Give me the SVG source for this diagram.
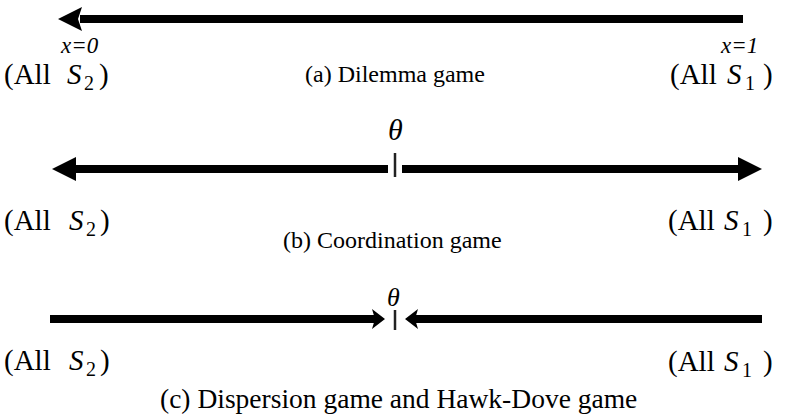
<svg xmlns="http://www.w3.org/2000/svg" width="785" height="416" viewBox="0 0 785 416">
<style>
.ln{stroke:#000;stroke-width:8;fill:none}
.hd{fill:#000;stroke:none}
.tk{stroke:#222;stroke-width:2.5}
.lab{font-family:"Liberation Serif","Times New Roman",serif;font-size:29px;fill:#000}
.it{font-style:italic}
.sub{font-size:20px}
.cap{font-family:"Liberation Serif","Times New Roman",serif;font-size:24px;fill:#000}
.pos{font-family:"Liberation Serif","Times New Roman",serif;font-style:italic;font-size:23px;fill:#000}
.th{font-family:"Liberation Serif","Times New Roman",serif;font-style:italic;font-size:30px;fill:#000}
</style>
<rect width="785" height="416" fill="#fff"/>
<g id="connectors">
  <line class="ln" x1="80" y1="19" x2="743" y2="19"/>
  <polygon class="hd" points="58,19 82,7 78,19 82,31"/>
  <line class="ln" x1="74" y1="169" x2="388" y2="169"/>
  <polygon class="hd" points="52,169 76,157 76,181"/>
  <line class="ln" x1="402" y1="169" x2="740" y2="169"/>
  <polygon class="hd" points="762,169 738,157 738,181"/>
  <line class="tk" x1="395" y1="153" x2="395" y2="177"/>
  <line class="ln" x1="50" y1="319" x2="376" y2="319"/>
  <polygon class="hd" points="385,319 372,309 375,319 372,329"/>
  <line class="ln" x1="414" y1="319" x2="762" y2="319"/>
  <polygon class="hd" points="405,319 418,309 415,319 418,329"/>
  <line class="tk" x1="395" y1="310" x2="395" y2="330"/>
</g>
<g id="row-a">
  <text class="pos" x="61" y="53">x=0</text>
  <text class="pos" x="721" y="53">x=1</text>
  <text class="lab" x="4" y="84">(All</text><text class="lab it" x="67" y="84">S</text><text class="lab sub" x="84" y="90">2</text><text class="lab" x="99" y="84">)</text>
  <text class="lab" x="670" y="84">(All</text><text class="lab it" x="727" y="84">S</text><text class="lab sub" x="745" y="90">1</text><text class="lab" x="763" y="84">)</text>
  <text class="cap" x="305" y="82">(a) Dilemma game</text>
</g>
<g id="row-b">
  <text class="th" x="388" y="140">θ</text>
  <text class="lab" x="4" y="230">(All</text><text class="lab it" x="69" y="230">S</text><text class="lab sub" x="86" y="236">2</text><text class="lab" x="100" y="230">)</text>
  <text class="lab" x="668" y="230">(All</text><text class="lab it" x="724" y="230">S</text><text class="lab sub" x="742" y="236">1</text><text class="lab" x="763" y="230">)</text>
  <text class="cap" x="283" y="248">(b) Coordination game</text>
</g>
<g id="row-c">
  <text class="th" x="387" y="306" style="font-size:26px">θ</text>
  <text class="lab" x="4" y="370">(All</text><text class="lab it" x="69" y="370">S</text><text class="lab sub" x="86" y="376">2</text><text class="lab" x="100" y="370">)</text>
  <text class="lab" x="668" y="371">(All</text><text class="lab it" x="724" y="371">S</text><text class="lab sub" x="742" y="377">1</text><text class="lab" x="763" y="371">)</text>
  <text class="cap" x="160" y="408" style="font-size:27.5px">(c) Dispersion game and Hawk-Dove game</text>
</g>
</svg>
